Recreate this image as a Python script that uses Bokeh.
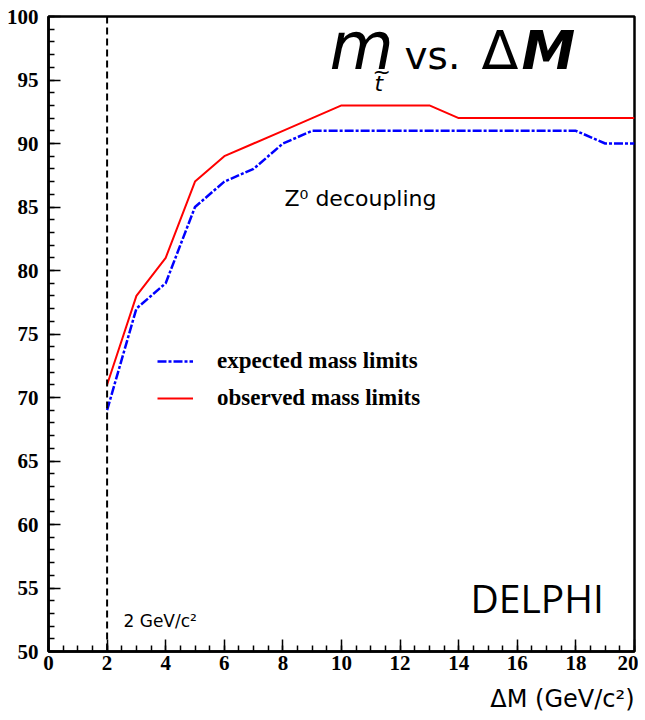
from bokeh.plotting import figure
from bokeh.models import (Range1d, SingleIntervalTicker, Label, Span, Legend,
                          LegendItem, Title, ColumnDataSource)
from bokeh.embed import file_html
from bokeh.resources import INLINE

# ---- data ----
delta_m = [2, 3, 4, 5, 6, 7, 8, 9, 10, 11, 12, 13, 14, 15, 16, 17, 18, 19, 20]
observed = [71, 78, 81, 87, 89, 90, 91, 92, 93, 93, 93, 93, 92, 92, 92, 92, 92, 92, 92]
expected = [69, 77, 79, 85, 87, 88, 90, 91, 91, 91, 91, 91, 91, 91, 91, 91, 91, 90, 90]
threshold_dm = 2
x_ticks_interval = 2
y_ticks_interval = 5

src = ColumnDataSource(dict(dm=delta_m, obs=observed, exp=expected))

p = figure(frame_width=586, frame_height=635, output_backend="svg",
           toolbar_location=None, x_range=Range1d(0, 20), y_range=Range1d(50, 100),
           min_border_left=48, min_border_right=4, min_border_top=16,
           min_border_bottom=6)
p.grid.visible = False
p.outline_line_color = "black"
p.outline_line_width = 2.5
p.background_fill_color = "white"
p.border_fill_color = "white"

p.xaxis.ticker = SingleIntervalTicker(interval=x_ticks_interval, num_minor_ticks=4)
p.yaxis.ticker = SingleIntervalTicker(interval=y_ticks_interval, num_minor_ticks=5)
for ax in (p.xaxis[0], p.yaxis[0]):
    ax.axis_line_width = 2.5
    ax.major_tick_in = 12
    ax.major_tick_out = 0
    ax.minor_tick_in = 6
    ax.minor_tick_out = 0
    ax.major_tick_line_width = 1.5
    ax.minor_tick_line_width = 1.5
    ax.major_label_text_font = "Liberation Serif"
    ax.major_label_text_font_style = "bold"
    ax.major_label_text_font_size = "21px"
    ax.major_label_text_color = "black"
p.yaxis.major_label_standoff = 10
p.xaxis.major_label_standoff = 4

span = Span(location=threshold_dm, dimension="height", line_color="black",
            line_width=2, line_dash="7 4")
p.add_layout(span)

r_exp = p.line("dm", "exp", source=src, line_color="#0000ff", line_width=2.5,
               line_dash="9 2 3 2")
r_obs = p.line("dm", "obs", source=src, line_color="#ff0000", line_width=2)

legend = Legend(items=[LegendItem(label="expected mass limits", renderers=[r_exp]),
                       LegendItem(label="observed mass limits", renderers=[r_obs])],
                location=(109, 240), margin=0, padding=0, spacing=11,
                glyph_width=36, glyph_height=22, label_height=22,
                label_standoff=24, background_fill_alpha=0,
                border_line_color=None,
                label_text_font="Liberation Serif", label_text_font_style="bold",
                label_text_font_size="23px", label_text_color="black")
p.add_layout(legend)

def px2x(px):
    return (px - 47) / 29.3

def py2y(py, size):
    # alphabetic baseline correction observed for label rendering
    return 100 - (py - 0.35 * size - 17) / 12.7

labels = [
    ("m", 328, 70, 66, "italic", "DejaVu Sans"),
    ("~", 371, 80, 22, "normal", "DejaVu Sans"),
    ("t", 373, 92, 22, "italic", "DejaVu Sans"),
    ("vs.", 403, 70, 39, "normal", "DejaVu Sans"),
    ("\u0394", 480, 70, 54, "normal", "DejaVu Sans"),
    ("M", 520, 70, 54, "bold italic", "DejaVu Sans"),
    ("Z\u2070 decoupling", 283, 207, 22, "normal", "DejaVu Sans"),
    ("2 GeV/c\u00b2", 122, 627, 17, "normal", "DejaVu Sans"),
    ("DELPHI", 469, 612, 39, "normal", "Open Sans"),
]
for txt, px, py, size, style, font in labels:
    p.add_layout(Label(x=px2x(px), y=py2y(py, size), text=txt, text_font=font,
                       text_font_size=f"{size}px", text_font_style=style,
                       text_color="black", text_baseline="alphabetic",
                       text_align="left"))

xlab = Title(text="\u0394M (GeV/c\u00b2)", align="right", text_font="DejaVu Sans",
             text_font_size="24px", text_font_style="normal", standoff=20,
             text_color="black")
p.add_layout(xlab, "below")

open("out.html", "w").write(file_html(p, INLINE))
